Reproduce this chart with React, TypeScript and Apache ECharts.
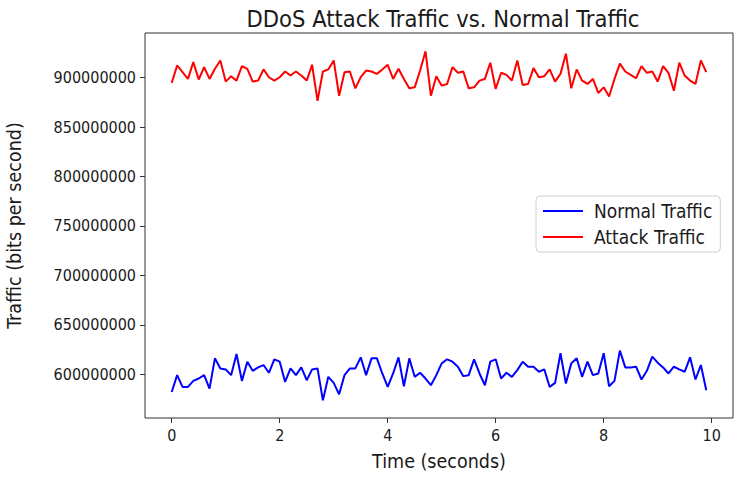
import React, { useEffect, useRef } from "react";
import * as echarts from "echarts";

const title = "DDoS Attack Traffic vs. Normal Traffic";
const xAxisName = "Time (seconds)";
const yAxisName = "Traffic (bits per second)";
const seriesNames = ["Normal Traffic", "Attack Traffic"];

const timeSeconds = [
  0.0, 0.1, 0.2, 0.3, 0.4, 0.5, 0.6, 0.7, 0.8, 0.9,
  1.0, 1.1, 1.2, 1.3, 1.4, 1.5, 1.6, 1.7, 1.8, 1.9,
  2.0, 2.1, 2.2, 2.3, 2.4, 2.5, 2.6, 2.7, 2.8, 2.9,
  3.0, 3.1, 3.2, 3.3, 3.4, 3.5, 3.6, 3.7, 3.8, 3.9,
  4.0, 4.1, 4.2, 4.3, 4.4, 4.5, 4.6, 4.7, 4.8, 4.9,
  5.0, 5.1, 5.2, 5.3, 5.4, 5.5, 5.6, 5.7, 5.8, 5.9,
  6.0, 6.1, 6.2, 6.3, 6.4, 6.5, 6.6, 6.7, 6.8, 6.9,
  7.0, 7.1, 7.2, 7.3, 7.4, 7.5, 7.6, 7.7, 7.8, 7.9,
  8.0, 8.1, 8.2, 8.3, 8.4, 8.5, 8.6, 8.7, 8.8, 8.9,
  9.0, 9.1, 9.2, 9.3, 9.4, 9.5, 9.6, 9.7, 9.8, 9.9,
];

const normalTraffic = [
  582300000, 599300000, 587400000, 587400000, 593500000, 595900000, 599300000, 585700000, 616300000, 606100000,
  605100000, 599300000, 620700000, 593500000, 612900000, 603700000, 607100000, 609500000, 601700000, 615300000,
  612900000, 592500000, 606100000, 599300000, 607100000, 594200000, 605100000, 606100000, 573800000, 597600000,
  591500000, 579900000, 599300000, 606100000, 606100000, 617300000, 599300000, 616300000, 616300000, 601000000,
  587400000, 601000000, 617300000, 588100000, 616300000, 597600000, 601700000, 595900000, 589100000, 599300000,
  611200000, 615300000, 612900000, 607800000, 598300000, 599300000, 615300000, 601000000, 589100000, 612900000,
  615300000, 595900000, 601700000, 597600000, 604400000, 612900000, 607800000, 607800000, 602700000, 605100000,
  587400000, 591500000, 621400000, 590800000, 611200000, 616300000, 597600000, 612900000, 599300000, 601000000,
  621400000, 588100000, 593500000, 624100000, 607100000, 607100000, 607800000, 594900000, 603700000, 618000000,
  611900000, 607100000, 601000000, 607800000, 605100000, 602700000, 617300000, 594900000, 609500000, 584000000,
];

const attackTraffic = [
  894600000, 912200000, 905400000, 898600000, 915600000, 898000000, 910500000, 898600000, 908800000, 917300000,
  895900000, 901400000, 896900000, 911600000, 908800000, 895900000, 896900000, 908200000, 900300000, 896900000,
  900300000, 906100000, 902000000, 906100000, 902000000, 896900000, 912900000, 876500000, 906100000, 908200000,
  917300000, 881600000, 905400000, 906100000, 889100000, 900300000, 907100000, 906100000, 903700000, 908200000,
  912900000, 898600000, 908800000, 898600000, 889100000, 890100000, 907100000, 926500000, 881600000, 901400000,
  891800000, 893500000, 910500000, 904800000, 906100000, 889100000, 890100000, 896900000, 898600000, 915000000,
  888400000, 904800000, 902700000, 896900000, 917300000, 892500000, 893500000, 909500000, 900300000, 901400000,
  908200000, 895900000, 903700000, 924100000, 889100000, 908200000, 896900000, 893500000, 898600000, 884400000,
  890100000, 880900000, 898600000, 914000000, 906100000, 902700000, 899300000, 911600000, 904800000, 906100000,
  895900000, 911600000, 904800000, 886700000, 915000000, 902000000, 896900000, 893500000, 917300000, 905400000,
];

const xTicks = [0, 2, 4, 6, 8, 10];
const yTicks = [600000000, 650000000, 700000000, 750000000, 800000000, 850000000, 900000000];

const FONT = "'DejaVu Sans Condensed', 'DejaVu Sans'";
const TEXT = "#1a1a1a";

export default function App() {
  const ref = useRef<HTMLDivElement>(null);
  useEffect(() => {
    if (!ref.current) return;
    const chart = echarts.init(ref.current, undefined, { renderer: "svg" });
    chart.setOption({
      animation: false,
      backgroundColor: "#ffffff",
      title: {
        text: title,
        left: 438,
        top: 2,
        textAlign: "center",
        textStyle: { fontFamily: FONT, fontSize: 23.5, fontWeight: "normal", color: TEXT },
      },
      legend: {
        data: seriesNames,
        orient: "vertical",
        left: 536,
        top: 196,
        padding: [5, 8, 5, 7],
        icon: "rect",
        itemWidth: 40,
        itemHeight: 2,
        itemGap: 6,
        borderColor: "#d0d0d0",
        borderWidth: 1,
        borderRadius: 4,
        backgroundColor: "#ffffff",
        textStyle: {
          fontFamily: FONT,
          fontSize: 19,
          lineHeight: 20,
          color: TEXT,
          padding: [0, 0, 0, 6],
        },
      },
      grid: {
        left: 145,
        right: 7,
        top: 33,
        bottom: 59,
        show: true,
        borderColor: "#333",
        borderWidth: 1,
        containLabel: false,
        outerBoundsMode: "none",
      },
      xAxis: {
        type: "value",
        min: -0.495,
        max: 10.395,
        name: xAxisName,
        nameLocation: "middle",
        nameGap: 33,
        nameTextStyle: { fontFamily: FONT, fontSize: 19.5, color: TEXT },
        axisLine: { show: false, onZero: false },
        splitLine: { show: false },
        axisTick: { show: true, customValues: xTicks, length: 5, lineStyle: { color: "#333" } },
        axisLabel: {
          customValues: xTicks,
          fontFamily: FONT,
          fontSize: 16,
          color: TEXT,
          margin: 9,
          formatter: (v: number) => String(v),
        },
      },
      yAxis: {
        type: "value",
        min: 556000000,
        max: 945000000,
        name: yAxisName,
        nameLocation: "middle",
        nameGap: 121,
        nameTextStyle: { fontFamily: FONT, fontSize: 19.5, color: TEXT },
        axisLine: { show: false, onZero: false },
        splitLine: { show: false },
        axisTick: { show: true, customValues: yTicks, length: 5, lineStyle: { color: "#333" } },
        axisLabel: {
          customValues: yTicks,
          fontFamily: FONT,
          fontSize: 16,
          color: TEXT,
          margin: 9,
          formatter: (v: number) => String(v),
        },
      },
      series: [
        {
          name: seriesNames[0],
          type: "line",
          symbol: "none",
          data: timeSeconds.map((t, i) => [t, normalTraffic[i]]),
          lineStyle: { color: "#0000ff", width: 2 },
          itemStyle: { color: "#0000ff" },
        },
        {
          name: seriesNames[1],
          type: "line",
          symbol: "none",
          data: timeSeconds.map((t, i) => [t, attackTraffic[i]]),
          lineStyle: { color: "#ff0000", width: 2 },
          itemStyle: { color: "#ff0000" },
        },
      ],
    });
    return () => chart.dispose();
  }, []);
  return (
    <div
      ref={ref}
      style={{ position: "fixed", left: 0, top: 0, width: 740, height: 477, background: "#fff" }}
    />
  );
}
